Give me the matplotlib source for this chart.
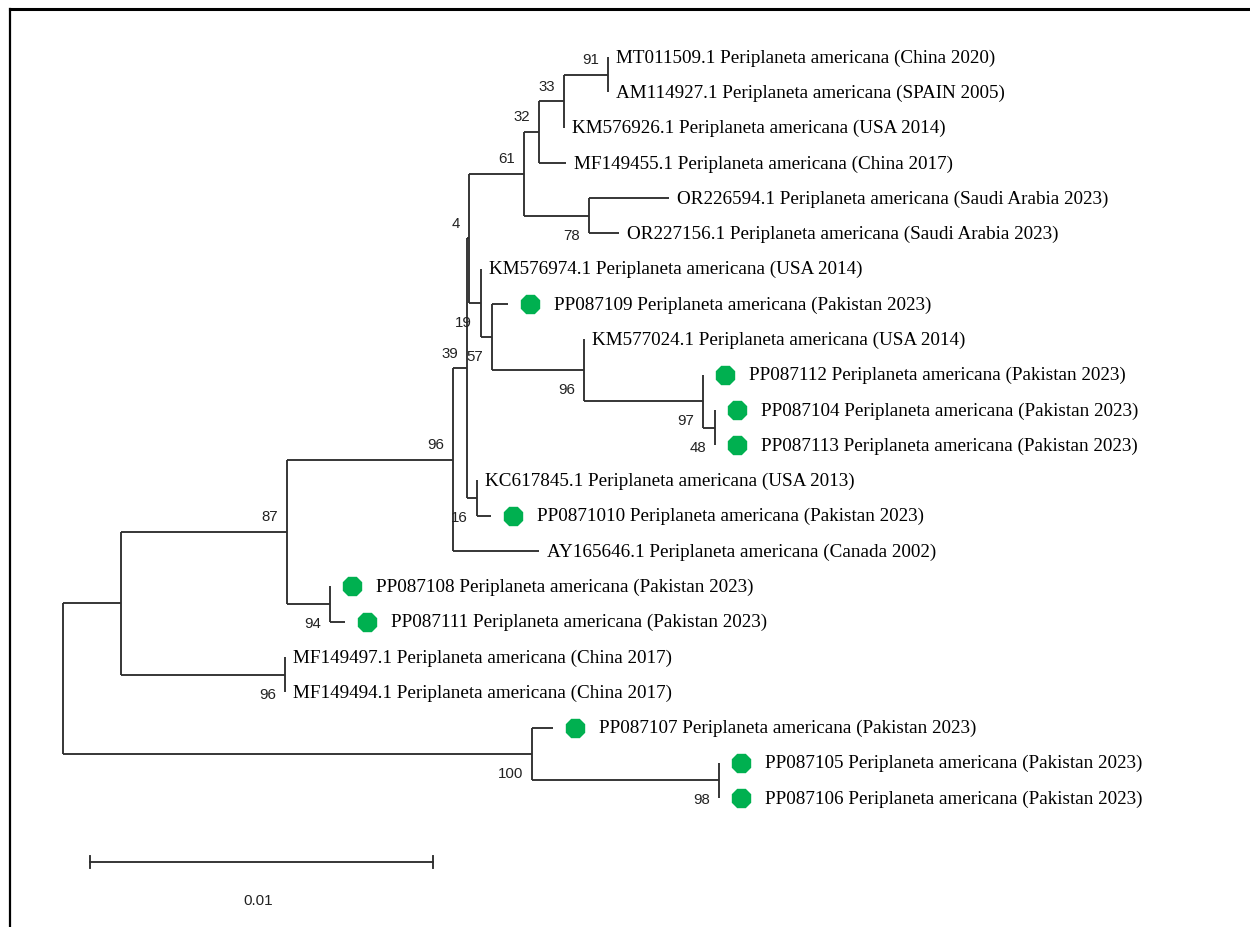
import matplotlib
matplotlib.use('Agg')
import matplotlib.pyplot as plt
from matplotlib.lines import Line2D

# internal nodes: parent must come before children
node_names = ['root', 'R', 'Q', 'N', 'L', 'E', 'D', 'C', 'B', 'A', 'F',
              'G', 'H', 'I', 'J', 'K', 'P', 'S', 'M', 'T', 'U']
node_parent = [None, 'root', 'R', 'Q', 'N', 'L', 'E', 'D', 'C', 'B', 'D',
               'E', 'G', 'H', 'I', 'J', 'L', 'Q', 'R', 'root', 'T']
node_length = [0, 0.00169, 0.00484, 0.00484, 0.00041, 0.00006, 0.00160, 0.00044,
               0.00073, 0.00128, 0.00190, 0.00035, 0.00032, 0.00268, 0.00347,
               0.00035, 0.00029, 0.00125, 0.00478, 0.01367, 0.00545]
node_support = ['', '', '87', '96', '39', '4', '61', '32', '33', '91', '78',
                '19', '57', '96', '97', '48', '16', '94', '96', '100', '98']

# leaves, top to bottom
leaf_ids = ['MT011509.1', 'AM114927.1', 'KM576926.1', 'MF149455.1', 'OR226594.1',
            'OR227156.1', 'KM576974.1', 'PP087109', 'KM577024.1', 'PP087112',
            'PP087104', 'PP087113', 'KC617845.1', 'PP0871010', 'AY165646.1',
            'PP087108', 'PP087111', 'MF149497.1', 'MF149494.1', 'PP087107',
            'PP087105', 'PP087106']
leaf_places = ['China 2020', 'SPAIN 2005', 'USA 2014', 'China 2017', 'Saudi Arabia 2023',
               'Saudi Arabia 2023', 'USA 2014', 'Pakistan 2023', 'USA 2014', 'Pakistan 2023',
               'Pakistan 2023', 'Pakistan 2023', 'USA 2013', 'Pakistan 2023', 'Canada 2002',
               'Pakistan 2023', 'Pakistan 2023', 'China 2017', 'China 2017', 'Pakistan 2023',
               'Pakistan 2023', 'Pakistan 2023']
leaf_parent = ['A', 'A', 'B', 'C', 'F', 'F', 'G', 'H', 'I', 'J', 'K', 'K', 'P', 'P',
               'N', 'S', 'S', 'M', 'M', 'T', 'U', 'U']
leaf_length = [0, 0, 0, 0.00079, 0.00233, 0.00087, 0, 0.00047, 0, 0, 0, 0, 0,
               0.00041, 0.00251, 0, 0.00044, 0, 0, 0.00061, 0, 0]
leaf_marked = [False, False, False, False, False, False, False, True, False, True,
               True, True, False, True, False, True, True, False, False, True,
               True, True]
species = 'Periplaneta americana'
scale_len = 0.01

line_col = '#2e2e2e'
green = '#00b050'
px = 1 / 34300.0   # one pixel in x data units
py = 1 / 35.29     # one pixel in y data units

fig = plt.figure(figsize=(12.5, 9.28), dpi=100)
ax = fig.add_axes([0, 0, 1, 1])
ax.set_xlim(-63 * px, 1187 * px)
ax.set_ylim(870 * py, -58 * py)
ax.axis('off')

# x positions
nx = {}
for n, p, l in zip(node_names, node_parent, node_length):
    nx[n] = 0.0 if p is None else nx[p] + l
leaf_x = [nx[p] + l for p, l in zip(leaf_parent, leaf_length)]

children = {n: [] for n in node_names}
for i, p in enumerate(leaf_parent):
    children[p].append(('leaf', i))
for n, p in zip(node_names, node_parent):
    if p is not None:
        children[p].append(('node', n))

ny = {}
def get_y(n):
    if n in ny:
        return ny[n]
    ys = [c if kind == 'leaf' else get_y(c) for kind, c in children[n]]
    ny[n] = (min(ys) + max(ys)) / 2
    return ny[n]
get_y('root')

lw = 1.35
for n in node_names:
    ys = []
    for kind, c in children[n]:
        if kind == 'leaf':
            cx, cy = leaf_x[c], c
        else:
            cx, cy = nx[c], ny[c]
        ys.append(cy)
        if cx > nx[n]:
            ax.plot([nx[n], cx], [cy, cy], color=line_col, lw=lw, solid_capstyle='butt')
    ax.plot([nx[n], nx[n]], [min(ys), max(ys)], color=line_col, lw=lw, solid_capstyle='butt')

# bootstrap values
boot_font = ['Liberation Sans Narrow', 'Liberation Sans']
for n, p, s in zip(node_names, node_parent, node_support):
    if not s:
        continue
    sib = [ny[c] if k == 'node' else c for k, c in children[p]]
    upper = ny[n] <= min(sib)
    yy = ny[n] - 15.5 * py if upper else ny[n] + 19 * py
    ax.text(nx[n] - 9 * px, yy, s, ha='right', va='center', fontsize=10.8,
            family=boot_font, color='#222222')

# leaf labels
for i, (lid, place) in enumerate(zip(leaf_ids, leaf_places)):
    tx = leaf_x[i] + 8 * px
    if leaf_marked[i]:
        ax.plot(leaf_x[i] + 22 * px, i, marker='8', ms=14.5, color=green, mec=green)
        tx = leaf_x[i] + 46 * px
    ax.text(tx, i, f'{lid} {species} ({place})', ha='left', va='center',
            fontsize=13.8, family='Liberation Serif', color='black')

# scale bar
sb_x, sb_y = 27 * px, 805 * py
ax.plot([sb_x, sb_x + scale_len], [sb_y, sb_y], color=line_col, lw=lw)
for xe in (sb_x, sb_x + scale_len):
    ax.plot([xe, xe], [sb_y - 6 * py, sb_y + 6 * py], color=line_col, lw=lw)
ax.text(sb_x + scale_len / 2 - 3 * px, sb_y + 38 * py, f'{scale_len:g}', ha='center',
        va='center', fontsize=11, family=boot_font, color='#222222')

# frame
fig.add_artist(Line2D([10 / 1250, 1], [1 - 10 / 928, 1 - 10 / 928], transform=fig.transFigure,
                      color='black', lw=2.2))
fig.add_artist(Line2D([10 / 1250, 10 / 1250], [0, 1 - 10 / 928], transform=fig.transFigure,
                      color='black', lw=1.6))

fig.savefig('out.png', dpi=100)
